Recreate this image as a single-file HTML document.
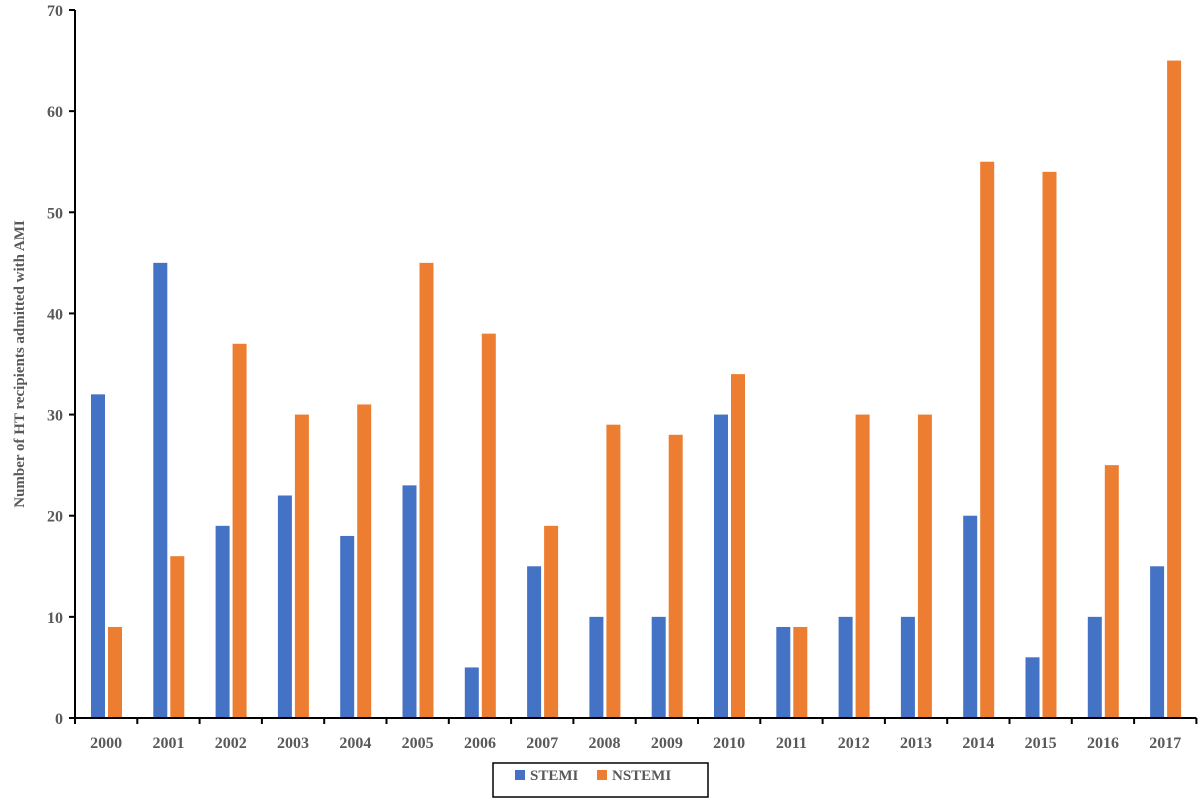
<!DOCTYPE html>
<html><head><meta charset="utf-8"><style>
body{margin:0;background:#fff;}
svg{display:block;font-family:"Liberation Serif",serif;font-weight:bold;}
</style></head><body>
<svg id="chart" width="1200" height="800">
<g id="bars"></g>
<g id="axes"></g>
<text x="24" y="364" transform="rotate(-90 24 364)" text-anchor="middle" font-size="15" fill="#595959">Number of HT recipients admitted with AMI</text>
<g>
<rect x="493" y="763" width="215" height="34" fill="#fff" stroke="#000" stroke-width="1.5"/>
<g><rect x="515" y="770" width="10" height="10" fill="#4472C4"/><text x="530" y="780" font-size="15" fill="#595959">STEMI</text></g>
<g><rect x="597" y="770" width="10" height="10" fill="#ED7D31"/><text x="612" y="780" font-size="15" fill="#595959">NSTEMI</text></g>
</g>
</svg>
<script>
const categories=["2000","2001","2002","2003","2004","2005","2006","2007","2008","2009","2010","2011","2012","2013","2014","2015","2016","2017"];
const stemi=[32,45,19,22,18,23,5,15,10,10,30,9,10,10,20,6,10,15];
const nstemi=[9,16,37,30,31,45,38,19,29,28,34,9,30,30,55,54,25,65];
const yTicks=[0,10,20,30,40,50,60,70];
const NS="http://www.w3.org/2000/svg";
const x0=75,band=62.3,y0=718,pxPer=(718-10)/70;
const y=v=>y0-v*pxPer;
const bx=i=>x0+i*band;
function mk(tag,attrs,parent){const e=document.createElementNS(NS,tag);for(const k in attrs)e.setAttribute(k,attrs[k]);parent.appendChild(e);return e;}
const bars=document.getElementById('bars'),axes=document.getElementById('axes');
categories.forEach((c,i)=>{
 let r=mk('rect',{x:bx(i)+16,y:y(stemi[i]),width:14,height:y0-y(stemi[i]),fill:'#4472C4'},bars);
 
 
 let r2=mk('rect',{x:bx(i)+33,y:y(nstemi[i]),width:14,height:y0-y(nstemi[i]),fill:'#ED7D31'},bars);
 
 
 let t=mk('text',{x:bx(i)+band/2,y:748,'text-anchor':'middle','font-size':16,fill:'#595959'},axes);
 t.textContent=c;
 
 
});
for(let i=0;i<=categories.length;i++){mk('line',{x1:bx(i),x2:bx(i),y1:y0,y2:y0+6,stroke:'#000','stroke-width':2},axes);}
yTicks.forEach(v=>{
 mk('line',{x1:x0-6,x2:x0,y1:y(v),y2:y(v),stroke:'#000','stroke-width':2},axes);
 let t=mk('text',{x:x0-12,y:y(v)+6,'text-anchor':'end','font-size':16,fill:'#595959'},axes);
 t.textContent=v;
 
 
});
let ya=mk('line',{x1:x0,x2:x0,y1:y(70),y2:y0,stroke:'#000','stroke-width':2},axes);


let xa=mk('line',{x1:x0-6,x2:bx(categories.length),y1:y0,y2:y0,stroke:'#000','stroke-width':2},axes);


</script>
</body></html>
